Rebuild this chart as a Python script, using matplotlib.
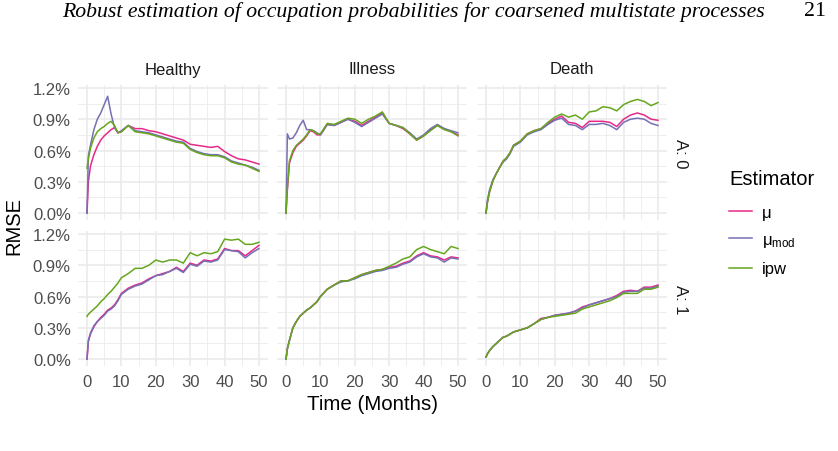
import numpy as np
import matplotlib
matplotlib.use("Agg")
import matplotlib.pyplot as plt
from matplotlib.lines import Line2D
from matplotlib.ticker import FixedLocator, FuncFormatter

plt.rcParams["font.family"] = ["Liberation Sans", "DejaVu Sans"]
plt.rcParams["mathtext.fontset"] = "custom"
plt.rcParams["mathtext.rm"] = "Liberation Sans"
plt.rcParams["mathtext.it"] = "Liberation Sans:italic"

# time grid (months) shared by all curves
t = [0, 0.4, 1, 2, 3, 4, 5, 6, 7, 8, 9, 10, 12, 14, 16, 18, 20, 22, 24, 26,
     28, 30, 32, 34, 36, 38, 40, 42, 44, 46, 48, 50]

states = ["Healthy", "Illness", "Death"]
treat = ["A: 0", "A: 1"]
estimators = ["mu", "mumod", "ipw"]
est_labels = ["\u03bc", "$\\mathregular{\u03bc_{mod}}$", "ipw"]
colors = ["#E7298A", "#7570B3", "#66A61E"]

# RMSE in percent
healthy_a0_mu = [0, 0.30, 0.45, 0.56, 0.64, 0.70, 0.74, 0.77, 0.80, 0.82, 0.77, 0.78, 0.84, 0.81, 0.81, 0.79,
                 0.78, 0.76, 0.74, 0.72, 0.70, 0.66, 0.65, 0.64, 0.63, 0.64, 0.59, 0.55, 0.52, 0.51, 0.49, 0.47]
healthy_a0_mumod = [0, 0.55, 0.65, 0.80, 0.90, 0.96, 1.04, 1.12, 0.95, 0.82, 0.77, 0.79, 0.84, 0.79, 0.78, 0.77,
                    0.75, 0.73, 0.71, 0.69, 0.68, 0.62, 0.59, 0.57, 0.56, 0.56, 0.54, 0.50, 0.48, 0.46, 0.44, 0.41]
healthy_a0_ipw = [0.43, 0.52, 0.62, 0.72, 0.78, 0.81, 0.83, 0.86, 0.88, 0.84, 0.77, 0.78, 0.84, 0.78, 0.77, 0.76,
                  0.74, 0.72, 0.70, 0.68, 0.67, 0.61, 0.58, 0.56, 0.55, 0.55, 0.53, 0.49, 0.47, 0.46, 0.43, 0.40]

illness_a0_mu = [0, 0.22, 0.48, 0.58, 0.64, 0.67, 0.70, 0.74, 0.79, 0.78, 0.75, 0.75, 0.85, 0.84, 0.87, 0.90,
                 0.88, 0.84, 0.88, 0.92, 0.96, 0.86, 0.84, 0.81, 0.76, 0.70, 0.74, 0.80, 0.84, 0.81, 0.78, 0.75]
illness_a0_mumod = [0, 0.76, 0.71, 0.72, 0.77, 0.84, 0.89, 0.80, 0.80, 0.79, 0.77, 0.75, 0.85, 0.84, 0.87, 0.90,
                    0.87, 0.83, 0.87, 0.91, 0.95, 0.86, 0.84, 0.82, 0.77, 0.71, 0.75, 0.81, 0.85, 0.81, 0.79, 0.77]
illness_a0_ipw = [0, 0.25, 0.50, 0.60, 0.65, 0.68, 0.71, 0.75, 0.80, 0.79, 0.76, 0.76, 0.86, 0.85, 0.88, 0.91,
                  0.90, 0.86, 0.90, 0.93, 0.97, 0.86, 0.84, 0.82, 0.76, 0.70, 0.74, 0.79, 0.84, 0.80, 0.78, 0.74]

death_a0_mu = [0, 0.10, 0.20, 0.31, 0.38, 0.44, 0.50, 0.53, 0.58, 0.65, 0.67, 0.69, 0.76, 0.79, 0.81, 0.86,
               0.90, 0.93, 0.87, 0.86, 0.82, 0.88, 0.88, 0.88, 0.87, 0.83, 0.90, 0.94, 0.96, 0.94, 0.90, 0.89]
death_a0_mumod = [0, 0.12, 0.22, 0.32, 0.38, 0.44, 0.49, 0.52, 0.57, 0.64, 0.66, 0.68, 0.75, 0.78, 0.80, 0.85,
                  0.89, 0.91, 0.85, 0.84, 0.80, 0.85, 0.85, 0.86, 0.84, 0.80, 0.87, 0.90, 0.91, 0.90, 0.86, 0.84]
death_a0_ipw = [0, 0.10, 0.20, 0.31, 0.38, 0.44, 0.50, 0.53, 0.58, 0.65, 0.67, 0.69, 0.76, 0.79, 0.81, 0.87,
                0.92, 0.95, 0.92, 0.94, 0.90, 0.97, 0.98, 1.02, 1.01, 0.98, 1.04, 1.07, 1.09, 1.07, 1.03, 1.06]

healthy_a1_mu = [0, 0.17, 0.24, 0.31, 0.36, 0.40, 0.43, 0.47, 0.49, 0.52, 0.57, 0.63, 0.68, 0.71, 0.73, 0.77,
                 0.80, 0.82, 0.84, 0.88, 0.84, 0.92, 0.90, 0.95, 0.94, 0.96, 1.06, 1.04, 1.04, 0.99, 1.04, 1.09]
healthy_a1_mumod = [0, 0.18, 0.25, 0.32, 0.36, 0.39, 0.42, 0.46, 0.48, 0.51, 0.56, 0.62, 0.67, 0.70, 0.72, 0.76,
                    0.80, 0.81, 0.84, 0.87, 0.83, 0.91, 0.89, 0.94, 0.93, 0.95, 1.05, 1.04, 1.03, 0.97, 1.02, 1.06]
healthy_a1_ipw = [0.41, 0.43, 0.45, 0.48, 0.51, 0.55, 0.58, 0.62, 0.65, 0.69, 0.73, 0.78, 0.82, 0.87, 0.87, 0.90,
                  0.95, 0.93, 0.95, 0.95, 0.92, 1.02, 0.99, 1.02, 1.01, 1.03, 1.15, 1.14, 1.15, 1.10, 1.10, 1.12]

illness_a1_mu = [0, 0.10, 0.18, 0.30, 0.36, 0.41, 0.44, 0.47, 0.49, 0.52, 0.55, 0.60, 0.67, 0.71, 0.75, 0.75,
                 0.78, 0.81, 0.83, 0.85, 0.86, 0.88, 0.89, 0.92, 0.94, 0.99, 1.02, 0.99, 0.98, 0.95, 0.98, 0.97]
illness_a1_mumod = [0, 0.10, 0.18, 0.30, 0.36, 0.41, 0.44, 0.47, 0.49, 0.52, 0.55, 0.60, 0.67, 0.71, 0.74, 0.75,
                    0.77, 0.80, 0.82, 0.84, 0.85, 0.87, 0.88, 0.91, 0.93, 0.98, 1.01, 0.98, 0.97, 0.93, 0.97, 0.96]
illness_a1_ipw = [0, 0.10, 0.18, 0.30, 0.36, 0.41, 0.44, 0.47, 0.49, 0.52, 0.55, 0.60, 0.67, 0.71, 0.75, 0.75,
                  0.78, 0.81, 0.83, 0.85, 0.86, 0.89, 0.92, 0.96, 0.98, 1.05, 1.08, 1.05, 1.03, 1.01, 1.08, 1.06]

death_a1_mu = [0.02, 0.05, 0.08, 0.12, 0.15, 0.18, 0.21, 0.22, 0.24, 0.26, 0.27, 0.28, 0.30, 0.34, 0.39, 0.40,
               0.42, 0.43, 0.44, 0.46, 0.50, 0.52, 0.54, 0.56, 0.58, 0.61, 0.65, 0.66, 0.65, 0.69, 0.69, 0.71]
death_a1_mumod = [0.02, 0.05, 0.08, 0.12, 0.15, 0.18, 0.21, 0.22, 0.24, 0.26, 0.27, 0.28, 0.30, 0.34, 0.38, 0.40,
                  0.42, 0.43, 0.44, 0.46, 0.49, 0.52, 0.54, 0.56, 0.58, 0.60, 0.64, 0.65, 0.65, 0.68, 0.68, 0.70]
death_a1_ipw = [0.02, 0.05, 0.08, 0.12, 0.15, 0.18, 0.21, 0.22, 0.24, 0.26, 0.27, 0.28, 0.30, 0.34, 0.38, 0.40,
                0.41, 0.42, 0.43, 0.44, 0.48, 0.50, 0.52, 0.54, 0.56, 0.59, 0.63, 0.63, 0.63, 0.67, 0.67, 0.69]

panels = {
    ("Healthy", 0): [healthy_a0_mu, healthy_a0_mumod, healthy_a0_ipw],
    ("Illness", 0): [illness_a0_mu, illness_a0_mumod, illness_a0_ipw],
    ("Death", 0): [death_a0_mu, death_a0_mumod, death_a0_ipw],
    ("Healthy", 1): [healthy_a1_mu, healthy_a1_mumod, healthy_a1_ipw],
    ("Illness", 1): [illness_a1_mu, illness_a1_mumod, illness_a1_ipw],
    ("Death", 1): [death_a1_mu, death_a1_mumod, death_a1_ipw],
}

W, H = 838, 452
fig = plt.figure(figsize=(W / 100, H / 100), dpi=100)

col_left = [78.4, 277.4, 477.4]
col_w = 189.2
row_top = [86, 232]
row_h = 135

pct = FuncFormatter(lambda v, p: "%.1f%%" % v)

for r in range(2):
    for c, st in enumerate(states):
        ax = fig.add_axes([col_left[c] / W, 1 - (row_top[r] + row_h) / H, col_w / W, row_h / H])
        for k in range(3):
            ax.plot(t, panels[(st, r)][k], color=colors[k], lw=1.1, zorder=3)
        ax.set_xlim(-2.5, 52.5)
        ax.set_ylim(-0.066, 1.228)
        ax.xaxis.set_major_locator(FixedLocator([0, 10, 20, 30, 40, 50]))
        ax.xaxis.set_minor_locator(FixedLocator([5, 15, 25, 35, 45]))
        ax.yaxis.set_major_locator(FixedLocator([0, 0.3, 0.6, 0.9, 1.2]))
        ax.yaxis.set_minor_locator(FixedLocator([0.15, 0.45, 0.75, 1.05]))
        ax.yaxis.set_major_formatter(pct)
        ax.grid(which="major", color="#EBEBEB", lw=1.2, zorder=0)
        ax.grid(which="minor", color="#EBEBEB", lw=0.6, zorder=0)
        ax.set_axisbelow(True)
        for s in ax.spines.values():
            s.set_visible(False)
        ax.tick_params(which="both", length=0, colors="#4D4D4D", labelsize=12, pad=5.5)
        if c > 0:
            ax.tick_params(labelleft=False)
        if r == 0:
            ax.tick_params(labelbottom=False)
            ax.text(0.5, 1 + 16 / row_h, st, transform=ax.transAxes, ha="center", va="center",
                    fontsize=12, color="#1A1A1A")
        if c == 2:
            ax.text(1 + 13.5 / col_w, 0.5, treat[r], transform=ax.transAxes, ha="center", va="center",
                    rotation=270, fontsize=12, color="#1A1A1A")

fig.text(14 / W, 1 - 226 / H, "RMSE", rotation=90, ha="center", va="center", fontsize=14.5)
fig.text(372.5 / W, 1 - 405 / H, "Time (Months)", ha="center", va="center", fontsize=14.8)

handles = [Line2D([], [], color=col, lw=1.1) for col in colors]
leg = fig.legend(handles, est_labels, title="Estimator", loc="upper left",
                 bbox_to_anchor=(729 / W, 1 - 170 / H), frameon=False, fontsize=12,
                 title_fontsize=14.5, handlelength=1.4, handletextpad=0.55, labelspacing=0.74,
                 borderpad=0, borderaxespad=0)
leg._legend_box.align = "left"
leg._legend_box.sep = 12

# running header of the page
fig.text(413 / W, 1 - 12 / H, "Robust estimation of occupation probabilities for coarsened multistate processes",
         ha="center", va="center", fontsize=15.7, style="italic", family="Liberation Serif")
fig.text(815 / W, 1 - 12 / H, "21", ha="center", va="center", fontsize=15.7, family="Liberation Serif")
# caption line cut off by the page edge
fig.text(573 / W, 1 - 449 / H, "$\\hat{\\mu}^0$, $\\hat{\\mu}^1$", ha="left", va="top", fontsize=12,
         family="Liberation Serif")

fig.savefig("out.png", dpi=100)
